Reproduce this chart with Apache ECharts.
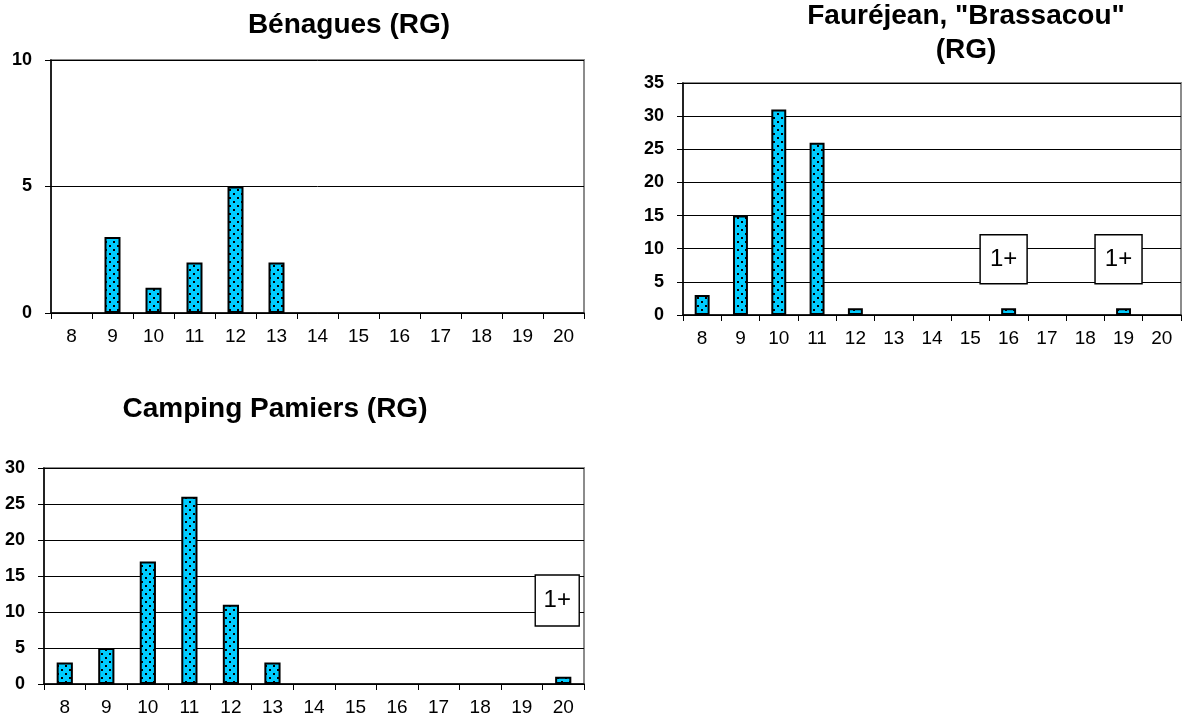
<!DOCTYPE html>
<html>
<head>
<meta charset="utf-8">
<script src="https://cdn.jsdelivr.net/npm/echarts@6/dist/echarts.min.js"></script>
<style>
html,body{margin:0;padding:0;background:#fff;}
#chart{width:1183px;height:722px;}
</style>
</head>
<body>
<div id="chart"></div>
<script>
// ---- data ----
const categories = ['8','9','10','11','12','13','14','15','16','17','18','19','20'];
const titles = ['Bénagues (RG)', 'Fauréjean, "Brassacou"\n(RG)', 'Camping Pamiers (RG)'];
const benagues  = [0, 3, 1, 2, 5, 2, 0, 0, 0, 0, 0, 0, 0];
const faurejean = [3, 15, 31, 26, 1, 0, 0, 0, 1, 0, 0, 1, 0];
const camping   = [3, 5, 17, 26, 11, 3, 0, 0, 0, 0, 0, 0, 1];
const yMax = [10, 35, 30];
const faurejeanNotes = [{cat: '16', text: '1+'}, {cat: '19', text: '1+'}];
const campingNotes = [{cat: '20', text: '1+'}];

// ---- dotted fill pattern ----
const tile = document.createElement('canvas');
tile.width = 8; tile.height = 8;
const ctx = tile.getContext('2d');
ctx.fillStyle = '#00CCFF';
ctx.fillRect(0, 0, 8, 8);
ctx.fillStyle = '#000';
ctx.fillRect(1, 1, 2, 2);
ctx.fillRect(5, 5, 2, 2);
const pattern = {image: tile, repeat: 'repeat'};

const FONT = "'Liberation Sans', Arial, sans-serif";

const grids = [
  {left: 51, top: 60, width: 533, height: 253},
  {left: 683, top: 83, width: 498, height: 232},
  {left: 44, top: 468, width: 540, height: 216}
];

function xAxis(i) {
  return {
    type: 'category', gridIndex: i, data: categories, boundaryGap: true,
    axisLine: {show: true, lineStyle: {color: '#000', width: 1.5}},
    axisTick: {show: true, length: 6, interval: 0, lineStyle: {color: '#000', width: 1}},
    axisLabel: {interval: 0, margin: 14, color: '#000', fontSize: 19, fontFamily: FONT},
    splitLine: {show: false}
  };
}
function yAxis(i) {
  return {
    type: 'value', gridIndex: i, min: 0, max: yMax[i], interval: 5,
    axisLine: {show: true, lineStyle: {color: '#000', width: 1.5}},
    axisTick: {show: true, length: 6, lineStyle: {color: '#000', width: 1}},
    axisLabel: {margin: 19, color: '#000', fontSize: 18, fontWeight: 'bold', fontFamily: FONT},
    splitLine: {show: true, lineStyle: {color: '#000', width: 1}}
  };
}
function notes(list, yVal, size, dx) {
  return {
    symbol: 'rect', symbolSize: size, symbolOffset: [dx, 0], silent: true,
    itemStyle: {color: '#fff', borderColor: '#000', borderWidth: 1.5},
    label: {show: true, position: 'inside', formatter: (p) => p.name, color: '#000', fontSize: 24, fontFamily: FONT},
    data: list.map(n => ({name: n.text, coord: [n.cat, yVal]}))
  };
}
function barSeries(i, values, mp) {
  const s = {
    type: 'bar', xAxisIndex: i, yAxisIndex: i, barWidth: '39%',
    data: values.map(v => v === 0 ? null : v),
    itemStyle: {color: pattern, borderColor: '#000', borderWidth: 2},
    emphasis: {disabled: true}, animation: false
  };
  if (mp) s.markPoint = mp;
  return s;
}

const titleStyle = {fontSize: 28, fontWeight: 'bold', color: '#000', fontFamily: FONT, lineHeight: 34};
const chart = echarts.init(document.getElementById('chart'), null, {renderer: 'canvas'});
chart.setOption({
  animation: false,
  backgroundColor: '#fff',
  title: [
    {text: titles[0], left: 349, top: 8, textAlign: 'center', padding: 0, textStyle: titleStyle},
    {text: titles[1], left: 966, top: -1, textAlign: 'center', padding: 0, textStyle: titleStyle},
    {text: titles[2], left: 275, top: 392, textAlign: 'center', padding: 0, textStyle: titleStyle}
  ],
  grid: grids.map(g => Object.assign({show: true, borderColor: '#8c8c8c', borderWidth: 2, backgroundColor: '#fff'}, g)),
  xAxis: [xAxis(0), xAxis(1), xAxis(2)],
  yAxis: [yAxis(0), yAxis(1), yAxis(2)],
  series: [
    barSeries(0, benagues),
    barSeries(1, faurejean, notes(faurejeanNotes, 8.4, [47, 49], -5)),
    barSeries(2, camping, notes(campingNotes, 11.6, [44, 51], -6))
  ]
});
</script>
</body>
</html>
